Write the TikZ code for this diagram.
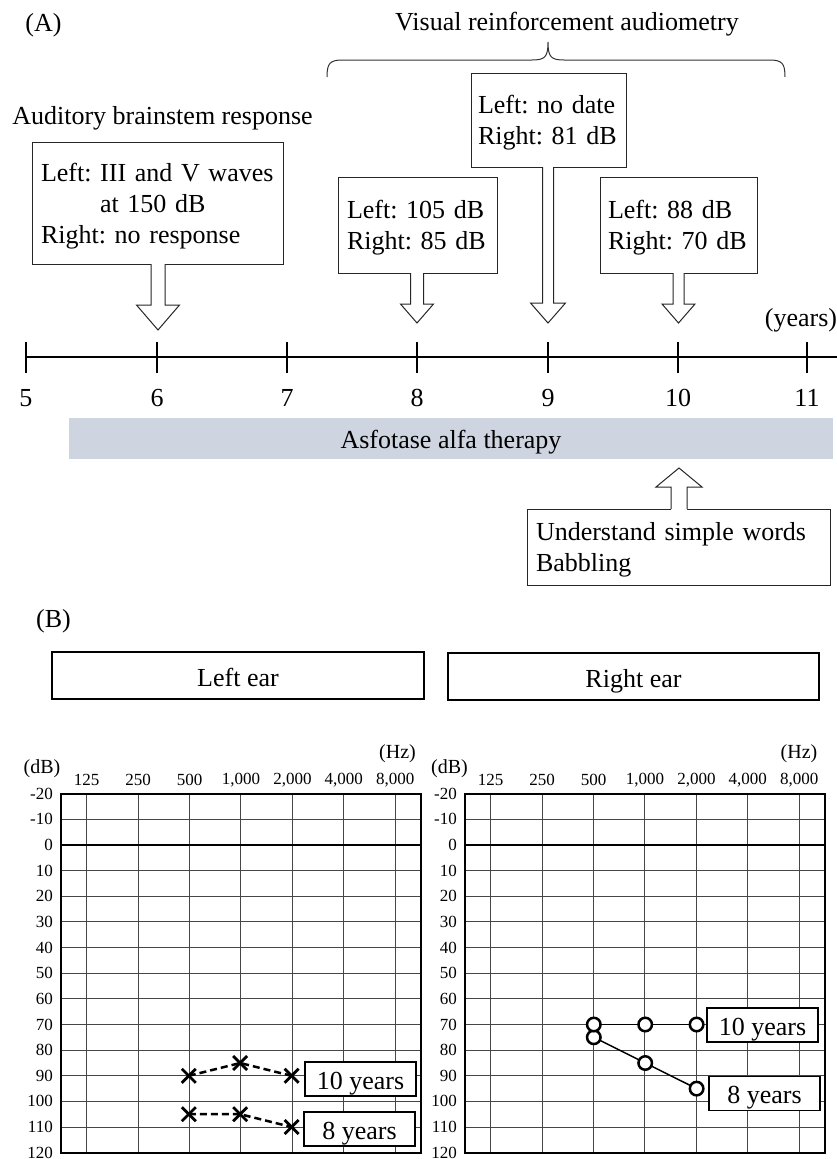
\documentclass[tikz,border=0pt]{standalone}
\usepackage{fontspec}
\setmainfont{Liberation Serif}
\usetikzlibrary{calc}
\definecolor{bandcol}{RGB}{207,212,225}
\definecolor{gridcol}{RGB}{70,70,70}
\newcommand\smallf{\fontsize{17}{20}\selectfont}
\newcommand\unitf{\fontsize{20}{24}\selectfont}
\newcommand\tstr{\rule{0pt}{24pt}}
% #1 cx, #2 top, #3 head start, #4 tip, #5 shaft half, #6 head half, #7 overlap offset
\newcommand\blockarrow[7]{%
  \fill[white] ({#1-#5},{#2+#7}) -- ({#1-#5},#3) -- ({#1-#6},#3) -- (#1,#4) -- ({#1+#6},#3) -- ({#1+#5},#3) -- ({#1+#5},{#2+#7}) -- cycle;
  \draw[boxline] ({#1-#5},#2) -- ({#1-#5},#3) -- ({#1-#6},#3) -- (#1,#4) -- ({#1+#6},#3) -- ({#1+#5},#3) -- ({#1+#5},#2);
}
\begin{document}
\frenchspacing
\begin{tikzpicture}[x=1pt,y=-1pt,font=\fontsize{26}{31}\selectfont\frenchspacing,
  boxline/.style={draw=black!85,line width=1pt,line join=miter},
  tbox/.style={boxline,fill=white,inner xsep=9pt,inner ysep=3pt,align=left},
  lbox/.style={draw=black,line width=1.5pt,fill=white,minimum width=111pt,minimum height=34pt,inner sep=0pt,text height=21pt,text depth=1pt},
  earbox/.style={draw=black,line width=2.5pt,minimum height=47pt,inner sep=0pt,text height=22pt,text depth=0pt},
  gridline/.style={draw=gridcol,line width=1pt},
  frameline/.style={draw=black,line width=2.2pt},
  xmark/.style={line width=2.8pt},
  omark/.style={draw=black,line width=2.5pt,fill=white,circle,minimum size=13.5pt,inner sep=0pt},
  dashline/.style={line width=2.5pt,dash pattern=on 7pt off 4pt},
  solidline/.style={line width=1.5pt}]
\useasboundingbox (0,0) rectangle (837,1159);

% ---------- (A) timeline ----------
\node (labA) at (43.5,25) {(A)};
\node (vra) at (567,24) {Visual reinforcement audiometry};
\draw[line width=1pt,draw=black!80] (327,77) .. controls (327,63) and (330,60) .. (343,60) -- (532,60)
   .. controls (545,60) and (548,57) .. (548,42) .. controls (548,57) and (551,60) .. (564,60) -- (769,60)
   .. controls (782,60) and (785,63) .. (785,77);
\node (abrlab) at (162.5,118) {Auditory brainstem response};

\node[tbox,text width=233pt,minimum height=122pt] (abr) at (157.5,203)
  {\tstr Left:~III~and~V~waves\\\hspace*{59pt}at~150~dB\\Right:~no~response};
\node[tbox,text width=141pt,minimum height=96pt] (b8) at (417.5,225) {\tstr Left:~105~dB\\Right:~85~dB};
\node[tbox,inner xsep=7pt,text width=141pt,minimum height=94pt] (b9) at (548.5,120) {\tstr Left:~no~date\\Right:~81~dB};
\node[tbox,inner xsep=8pt,text width=141pt,minimum height=96pt] (b10) at (678.5,225) {\tstr Left:~88~dB\\Right:~70~dB};

\blockarrow{158}{264}{305}{330}{7}{21.5}{-1}
\blockarrow{417}{273}{304}{323}{6.5}{16.5}{-1}
\blockarrow{548}{167}{303}{323}{5.5}{17.5}{-1}
\blockarrow{678.5}{273}{304}{323}{5.5}{16.5}{-1}

\node (years) at (801,320) {(years)};
\coordinate (axL) at (26,357);
\coordinate (axR) at (837,357);
\draw[line width=2pt] (axL) -- (axR);
\foreach \xx/\lab in {26/5,157/6,287/7,417/8,548/9,678/10,807/11}{
  \coordinate (t\lab) at (\xx,357);
  \draw[line width=2pt] (\xx,342) -- (\xx,373);
  \node (n\lab) at (\xx,398) {\lab};
}

\node[fill=bandcol,minimum width=764pt,minimum height=41pt,inner sep=0pt,text height=21pt,text depth=2pt] (therapy) at (451,438.5) {Asfotase alfa therapy};

\node[tbox,text width=285pt,minimum height=76pt] (words) at (678.5,547) {\tstr Understand~simple~words\\Babbling};
\blockarrow{679}{509}{487}{468}{8}{23}{1}

% ---------- (B) audiograms ----------
\node (labB) at (53.5,621) {(B)};
\node[earbox,minimum width=372pt] (lear) at (238,675.5) {Left ear};
\node[earbox,minimum width=371pt] (rear) at (633.5,676.5) {Right ear};

\foreach \sx/\dbx/\hzx in {61/-19/336.5,465/-15.5/334}{
\begin{scope}[shift={(\sx,0)}]
  \foreach \i in {1,...,13}{
    \draw[gridline] (0,{793.7+25.64*\i}) -- (360,{793.7+25.64*\i});
  }
  \foreach \k in {0,...,6}{
    \draw[gridline] ({25.7+51.43*\k},793.7) -- ({25.7+51.43*\k},1152.7);
  }
  \draw[frameline] (0,845) -- (360,845);
  \draw[frameline] (0,793.7) rectangle (360,1152.7);
  \foreach \v [count=\i from 0] in {-20,-10,0,10,20,30,40,50,60,70,80,90,100,110,120}{
    \node[anchor=east,font=\smallf,inner sep=0pt] at (-8,{793.7+25.64*\i}) {\v};
  }
  \foreach \f [count=\k from 0] in {125,250,500,{1,000},{2,000},{4,000},{8,000}}{
    \node[font=\smallf,inner sep=0pt] at ({25.7+51.43*\k},780) {\f};
  }
  \node[font=\unitf,inner sep=0pt] at (\dbx,769) {(dB)};
  \node[font=\unitf,inner sep=0pt] at (\hzx,754) {(Hz)};
\end{scope}
}

% left ear data (X, dashed)
\coordinate (La1) at (188.8,1075.8);
\coordinate (La2) at (240.2,1063.0);
\coordinate (La3) at (291.6,1075.8);
\coordinate (Lb1) at (188.8,1114.2);
\coordinate (Lb2) at (240.2,1114.2);
\coordinate (Lb3) at (291.6,1127.0);
\draw[dashline] (La1) -- (La2) -- (La3);
\draw[dashline] (Lb1) -- (Lb2) -- (Lb3);
\foreach \p in {La1,La2,La3,Lb1,Lb2,Lb3}{
  \draw[xmark] ($(\p)+(-7,-7)$) -- ($(\p)+(7,7)$);
  \draw[xmark] ($(\p)+(-7,7)$) -- ($(\p)+(7,-7)$);
}
\node[lbox] (L10) at (360.5,1079) {10 years};
\node[lbox] (L8) at (359.5,1129) {8 years};

% right ear data (O, solid)
\coordinate (Ra1) at (593.8,1024.5);
\coordinate (Ra2) at (645.2,1024.5);
\coordinate (Ra3) at (696.6,1024.5);
\coordinate (Rb1) at (593.8,1037.3);
\coordinate (Rb2) at (645.2,1063.0);
\coordinate (Rb3) at (696.6,1088.6);
\draw[solidline] (Ra1) -- (Ra2) -- (Ra3);
\draw[solidline] (Rb1) -- (Rb2) -- (Rb3);
\foreach \p in {Rb1,Rb2,Rb3,Ra1,Ra2,Ra3}{
  \node[omark] at (\p) {};
}
\node[lbox] (R10) at (762.5,1025) {10 years};
\node[lbox] (R8) at (764.5,1093.5) {8 years};
\end{tikzpicture}
\end{document}
